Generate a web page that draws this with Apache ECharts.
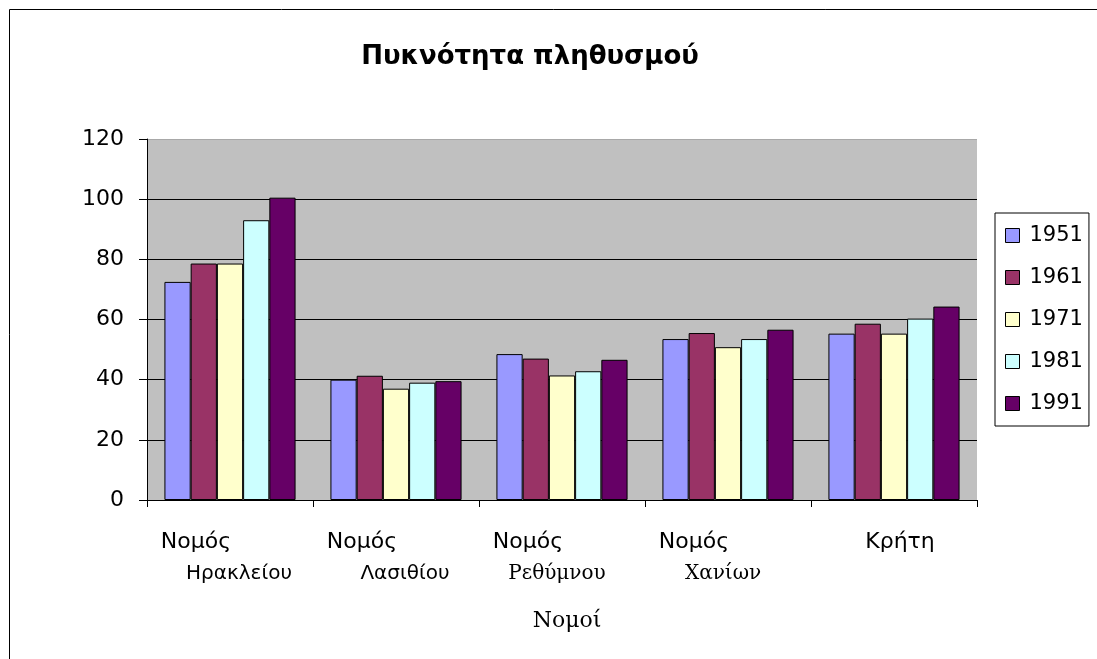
<!DOCTYPE html>
<html>
<head>
<meta charset="utf-8">
<title>Πυκνότητα πληθυσμού</title>
<script src="https://cdn.jsdelivr.net/npm/echarts@6/dist/echarts.min.js"></script>
<style>
  html, body { margin: 0; padding: 0; background: #fff; }
  #chart { width: 1097px; height: 659px; }
</style>
</head>
<body>
<div id="chart"></div>
<script>
// categories (νομοί)
var categories = ['Ηρακλείου', 'Λασιθίου', 'Ρεθύμνου', 'Χανίων', 'Κρήτη'];
var years = ['1951', '1961', '1971', '1981', '1991'];
var yTicks = [0, 20, 40, 60, 80, 100, 120];

// πυκνότητα ανά έτος
var d1951 = [72.5, 40, 48.5, 53.5, 55.3];
var d1961 = [78.6, 41.3, 47, 55.5, 58.6];
var d1971 = [78.6, 37, 41.4, 50.8, 55.3];
var d1981 = [93, 39, 42.8, 53.5, 60.3];
var d1991 = [100.5, 39.5, 46.6, 56.6, 64.3];

var colors = ['#9999ff', '#993366', '#ffffcc', '#ccffff', '#660066'];
var sans = '"DejaVu Sans", Arial, sans-serif';
var serif = '"DejaVu Serif", "Liberation Serif", serif';

var values = [d1951, d1961, d1971, d1981, d1991];
var series = years.map(function (y, i) {
  return {
    name: y,
    type: 'bar',
    data: values[i],
    barGap: '0%',
    barCategoryGap: '21%',
    itemStyle: { color: colors[i], borderColor: '#000', borderWidth: 1 }
  };
});

var chart = echarts.init(document.getElementById('chart'));
chart.setOption({
  animation: false,
  backgroundColor: '#fff',
  title: {
    text: 'Πυκνότητα πληθυσμού',
    left: 525, top: 39, textAlign: 'center',
    textStyle: { fontFamily: sans, fontSize: 26, fontWeight: 'bold', color: '#000' }
  },
  legend: {
    orient: 'vertical',
    left: 995, top: 213,
    padding: [12, 6, 12, 10],
    itemGap: 21,
    itemWidth: 14, itemHeight: 14,
    icon: 'rect',
    borderColor: '#000', borderWidth: 1,
    data: years,
    itemStyle: { borderColor: '#000', borderWidth: 1 },
    textStyle: { fontFamily: sans, fontSize: 21, color: '#000', padding: [0, 0, 0, 5] }
  },
  grid: { left: 147, right: 120, top: 139, bottom: 159, containLabel: false,
          show: true, backgroundColor: '#c0c0c0', borderWidth: 0 },
  xAxis: {
    type: 'category',
    data: categories,
    name: 'Νομοί',
    nameLocation: 'middle',
    nameGap: 110,
    nameTextStyle: { fontFamily: serif, fontSize: 22, color: '#000', padding: [0, 0, 0, 10] },
    axisLine: { lineStyle: { color: '#000', width: 1 } },
    axisTick: { show: true, length: 7, lineStyle: { color: '#000' } },
    axisLabel: {
      margin: 26,
      interval: 0,
      formatter: function (v, i) {
        if (i === 4) return '{k|' + v + '}';
        var st = (i >= 2) ? 'c' : 'b';
        return '{a|Νομός}\n{' + st + '|' + v + '}';
      },
      rich: {
        a: { fontFamily: sans, fontSize: 22, color: '#000', padding: [0, 68, 0, 0], lineHeight: 32 },
        b: { fontFamily: sans, fontSize: 20, color: '#000', padding: [0, 0, 0, 18], lineHeight: 32 },
        c: { fontFamily: serif, fontSize: 20, color: '#000', padding: [0, 10, 0, 0], lineHeight: 32 },
        k: { fontFamily: sans, fontSize: 22, color: '#000', padding: [0, 0, 0, 12], lineHeight: 32 }
      }
    }
  },
  yAxis: {
    type: 'value',
    min: yTicks[0], max: yTicks[yTicks.length - 1], interval: 20,
    axisLine: { show: true, lineStyle: { color: '#000', width: 1 } },
    axisTick: { show: true, inside: false, length: 8, lineStyle: { color: '#000' } },
    axisLabel: { fontFamily: sans, fontSize: 22, color: '#000', margin: 23 },
    splitLine: { show: true, lineStyle: { color: ['#000', '#000', '#000', '#000', '#000', '#000', '#a8a8a8'], width: 1 } }
  },
  graphic: [{
    type: 'rect',
    shape: { x: 9.5, y: 9.5, width: 1200, height: 800 },
    style: { fill: null, stroke: '#000', lineWidth: 1 },
    silent: true
  }],
  series: series
});
</script>
</body>
</html>
